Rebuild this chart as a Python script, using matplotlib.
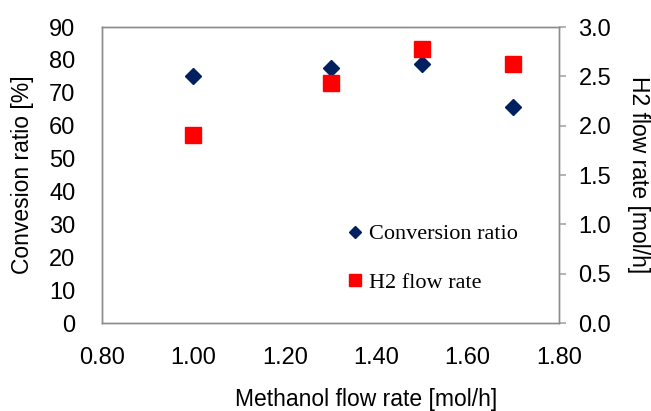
import matplotlib.pyplot as plt
from matplotlib.lines import Line2D

# data
methanol_flow = [1.0, 1.3, 1.5, 1.7]
conversion_ratio = [75.1, 77.4, 78.6, 65.6]
h2_flow = [1.91, 2.43, 2.78, 2.63]

x_ticks = [0.8, 1.0, 1.2, 1.4, 1.6, 1.8]
left_ticks = [0, 10, 20, 30, 40, 50, 60, 70, 80, 90]
right_ticks = [0.0, 0.5, 1.0, 1.5, 2.0, 2.5, 3.0]

navy = "#002060"
red = "#ff0000"
grey = "#8c8c8c"

plt.rcParams["font.family"] = ["Liberation Sans", "DejaVu Sans"]

fig = plt.figure(figsize=(6.51, 4.11), dpi=100)
ax = fig.add_axes([0.1567, 0.2141, 0.7020, 0.7202])
ax2 = ax.twinx()

ax.plot(methanol_flow, conversion_ratio, linestyle="none", marker="D",
        markersize=8.5, color=navy, label="Conversion ratio")
ax2.plot(methanol_flow, h2_flow, linestyle="none", marker="s",
         markersize=12, color=red, label="H2 flow rate")

ax.set_xlim(0.8, 1.8)
ax.set_ylim(0, 90)
ax2.set_ylim(0, 3.0)
ax.set_xticks(x_ticks)
ax.set_xticklabels([f"{v:.2f}" for v in x_ticks])
ax.set_yticks(left_ticks)
ax2.set_yticks(right_ticks)
ax2.set_yticklabels([f"{v:.1f}" for v in right_ticks])

ax.tick_params(axis="x", length=0, pad=17, labelsize=17)
ax.tick_params(axis="y", length=0, pad=19, labelsize=17)
ax2.tick_params(axis="y", length=5, width=1.2, color="#a6a6a6", pad=9, labelsize=17)

for a in [ax, ax2]:
    for s in a.spines.values():
        s.set_color(grey)
        s.set_linewidth(1.0)

ax.set_xlabel("Methanol flow rate [mol/h]", fontsize=16.5, va="top")
ax.xaxis.set_label_coords(0.578, -0.219)
ax.set_ylabel("Convesion ratio [%]", fontsize=16.5, va="center")
ax.yaxis.set_label_coords(-0.173, 0.5)
ax2.set_ylabel("H2 flow rate [mol/h]", fontsize=16.5, rotation=270, va="center")
ax2.yaxis.set_label_coords(1.173, 0.5)

handles = [
    Line2D([], [], linestyle="none", marker="D", markersize=6, color=navy),
    Line2D([], [], linestyle="none", marker="s", markersize=8.5, color=red),
]
ax2.legend(handles, ["Conversion ratio", "H2 flow rate"],
           loc="upper left", bbox_to_anchor=(0.52, 0.365), frameon=False,
           prop={"family": "Liberation Serif", "size": 16},
           handlelength=0.6, handletextpad=0.3, labelspacing=1.25,
           borderaxespad=0)

fig.savefig("out.png", dpi=100)
